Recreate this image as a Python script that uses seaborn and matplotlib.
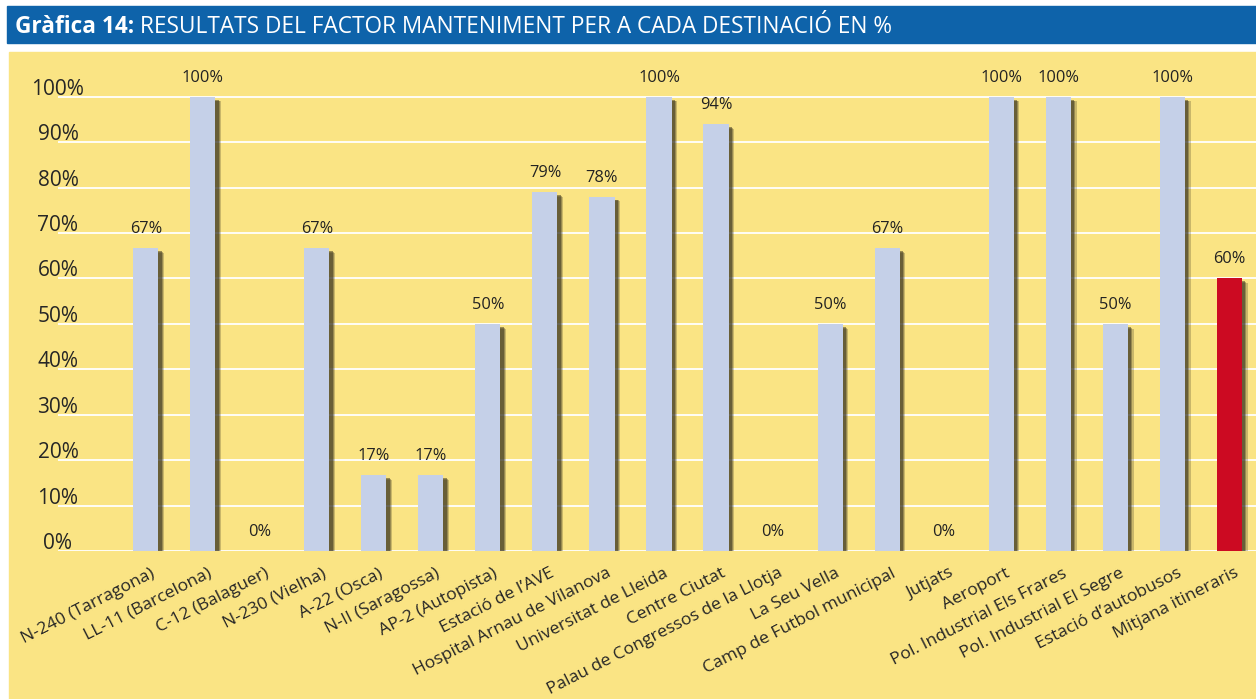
import matplotlib
matplotlib.use('agg')
import matplotlib.pyplot as plt
from matplotlib.patches import Rectangle
from matplotlib import patheffects as pe
from matplotlib.transforms import ScaledTranslation
import seaborn as sns

# data
destinations = ['N-240 (Tarragona)', 'LL-11 (Barcelona)', 'C-12 (Balaguer)', 'N-230 (Vielha)',
                'A-22 (Osca)', 'N-II (Saragossa)', 'AP-2 (Autopista)', 'Estació de l\u2019AVE',
                'Hospital Arnau de Vilanova', 'Universitat de Lleida', 'Centre Ciutat',
                'Palau de Congressos de la Llotja', 'La Seu Vella', 'Camp de Futbol municipal',
                'Jutjats', 'Aeroport', 'Pol. Industrial Els Frares', 'Pol. Industrial El Segre',
                'Estació d\u2019autobusos', 'Mitjana itineraris']
values = [66.7, 100, 0, 66.7, 16.7, 16.7, 50, 79, 78, 100,
          94, 0, 50, 66.7, 0, 100, 100, 50, 100, 60]
value_labels = ['67%', '100%', '0%', '67%', '17%', '17%', '50%', '79%', '78%', '100%',
                '94%', '0%', '50%', '67%', '0%', '100%', '100%', '50%', '100%', '60%']
yticks = [0, 10, 20, 30, 40, 50, 60, 70, 80, 90, 100]

YELLOW = '#FAE484'
BAR = '#C5D0E8'
RED = '#CC0A22'
BLUE = '#0E63AA'

sns.set_style('white')
plt.rcParams['font.family'] = ['Open Sans', 'DejaVu Sans']
plt.rcParams['text.color'] = '#1a1a1a'

W, H = 1256, 699
fig = plt.figure(figsize=(W / 100, H / 100), dpi=100)
fig.patch.set_facecolor('white')

# title bar and yellow panel (behind the axes)
fig.patches.append(Rectangle((7 / W, 1 - 43 / H), (W - 7) / W, 37 / H,
                             transform=fig.transFigure, color=BLUE, zorder=-5))
fig.patches.append(Rectangle((9 / W, 0), (W - 9) / W, 1 - 52 / H,
                             transform=fig.transFigure, color=YELLOW, zorder=-5))

ax = fig.add_axes([58 / W, (H - 551) / H, (W - 58) / W, (551 - 60) / H])
ax.set_facecolor('none')

colors = [BAR] * (len(destinations) - 1) + [RED]
sns.barplot(x=destinations, y=values, hue=destinations, palette=colors,
            legend=False, width=0.44, saturation=1, linewidth=0, edgecolor='none',
            ax=ax, zorder=3)

# soft drop shadow, built from a few stacked offsets
shadow = [pe.SimplePatchShadow(offset=(o, -o * 0.8), shadow_rgbFace='#3a3420', alpha=a)
          for o, a in [(4.2, 0.25), (3.4, 0.35), (2.6, 0.5)]]
for p in ax.patches:
    p.set_path_effects(shadow + [pe.Normal()])

for cont, lab in zip(ax.containers, value_labels):
    ax.bar_label(cont, labels=[lab], padding=8, fontsize=11.8, color='#222222')

px = 1 / 100  # one pixel in inches
ax.set_xlim(-1.54, 19.47)
ax.set_ylim(0, 108.1)
ax.set_yticks(yticks)
ax.set_yticklabels([f'{t}%' for t in yticks], fontsize=15, ha='center')
ax.tick_params(axis='y', length=0, pad=0)
for lbl in ax.get_yticklabels():
    lbl.set_transform(lbl.get_transform() + ScaledTranslation(0, 10 * px, fig.dpi_scale_trans))
ax.yaxis.grid(True, color='white', lw=1.3, zorder=1)
ax.xaxis.grid(False)

ax.set_xticks(range(len(destinations)))
ax.set_xticklabels(destinations, rotation=27, ha='right', va='baseline',
                   rotation_mode='anchor', fontsize=12.6)
ax.tick_params(axis='x', length=0, pad=0)
for lbl in ax.get_xticklabels():
    lbl.set_transform(lbl.get_transform() + ScaledTranslation(10 * px, -25 * px,
                                                              fig.dpi_scale_trans))

for s in ax.spines.values():
    s.set_visible(False)
ax.set_xlabel('')
ax.set_ylabel('')

t1 = fig.text(15 / W, 1 - 27 / H, 'Gràfica 14:', color='white', fontsize=16.3,
              fontweight='bold', va='center', ha='left')
ax.annotate(' RESULTATS DEL FACTOR MANTENIMENT PER A CADA DESTINACIÓ EN %',
            xy=(1, 0.5), xycoords=t1, va='center', ha='left', color='white',
            fontsize=16.3, annotation_clip=False)

fig.savefig('out.png', dpi=100)
